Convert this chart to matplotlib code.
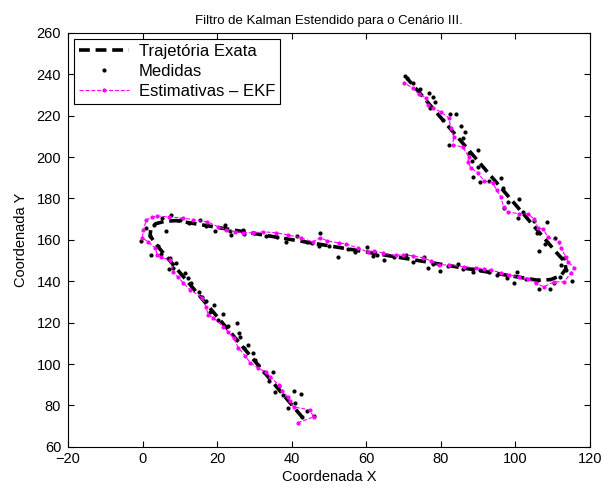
import numpy as np
import matplotlib.pyplot as plt

plt.rcParams['font.family'] = ['Liberation Sans', 'DejaVu Sans']

# trajetoria exata (pontos de quebra)
traj_x = [43.0, 3.5, 2.0, 2.2, 3.5, 6.0, 9.0, 106.0, 109.5, 112.3, 113.6, 113.3, 111.5, 71.0]
traj_y = [74.0, 158.0, 162.0, 165.5, 167.8, 169.0, 169.3, 140.5, 140.8, 142.8, 146.0, 149.5, 153.0, 238.0]

# medidas
med_x = [42.9, 45.9, 44.2, 39.1, 41.0, 42.4, 40.5, 37.8, 35.6, 36.5, 33.8, 35.1, 32.5, 31.0,
         30.2, 29.5, 28.4, 27.2, 26.0, 25.8, 25.4, 23.0, 20.1, 21.5, 18.2, 19.2, 17.0, 15.8,
         15.0, 12.3, 11.5, 13.0, 8.2, 7.2, 9.0, 7.4, 5.0, 2.3, 4.0, -0.4, 2.0, 1.0, 3.0, 5.3,
         6.3, 7.7, 10.0, 12.5, 15.5, 17.0, 19.5, 22.2, 23.8, 23.5, 27.0, 27.3, 30.0, 33.0,
         36.0, 38.5, 41.3, 44.0, 45.5, 47.5, 47.2, 50.0, 52.3, 55.0, 57.0, 60.1, 61.7, 63.0,
         64.9, 67.5, 70.6, 72.5, 75.4, 76.5, 78.0, 79.7, 82.0, 84.6, 86.0, 88.6, 90.5, 93.0,
         95.0, 97.7, 99.6, 100.4, 103.0, 106.3, 106.0, 109.3, 110.5, 112.0, 115.2, 113.5,
         112.3, 113.1, 106.3, 110.6, 108.0, 105.8, 108.5, 105.0, 100.7, 102.0, 97.0, 101.0,
         98.0, 96.7, 96.1, 93.0, 90.5, 88.6, 90.0, 88.5, 90.0, 87.5, 82.2, 85.9, 86.5, 85.4,
         84.0, 82.4, 80.5, 77.0, 78.5, 77.8, 76.8, 74.5, 72.5, 70.3, 71.0]
med_y = [74.5, 75.0, 77.4, 78.8, 81.0, 85.6, 87.1, 85.0, 86.6, 89.5, 91.9, 96.2, 96.0, 99.5,
         102.0, 105.5, 109.3, 108.0, 113.1, 115.0, 120.0, 118.5, 121.4, 124.0, 125.2, 128.6,
         130.5, 132.5, 135.0, 141.6, 144.1, 139.0, 146.5, 146.0, 149.0, 151.3, 153.0, 152.8,
         157.0, 159.5, 162.0, 165.5, 167.0, 170.6, 164.3, 172.1, 169.5, 168.0, 169.7, 166.5,
         164.3, 167.2, 162.4, 164.3, 164.8, 162.9, 163.5, 162.0, 161.5, 159.0, 161.9, 159.0,
         158.5, 163.4, 157.1, 157.0, 151.8, 155.6, 154.0, 156.6, 152.3, 152.5, 150.3, 151.5,
         152.8, 149.5, 151.8, 146.5, 148.5, 145.0, 147.5, 148.4, 146.0, 144.5, 145.5, 144.5,
         143.0, 141.6, 139.2, 144.5, 141.0, 136.3, 140.5, 136.3, 139.0, 142.0, 140.2, 145.5,
         147.9, 151.3, 154.7, 161.0, 158.0, 163.4, 168.7, 169.2, 170.6, 173.5, 175.5, 179.8,
         178.4, 185.1, 190.0, 188.5, 188.0, 190.4, 195.3, 198.0, 203.5, 202.0, 205.9, 209.3,
         212.0, 215.1, 220.9, 220.9, 218.0, 223.8, 226.5, 229.1, 231.0, 233.0, 236.0, 239.2,
         238.0]

# estimativas do EKF
est_x = [41.6, 45.9, 44.8, 40.5, 39.5, 38.9, 37.5, 36.5, 34.3, 33.0, 31.0, 28.9, 27.5, 25.7,
         24.4, 23.0, 21.7, 19.0, 17.6, 17.0, 16.0, 12.8, 10.9, 9.5, 8.2, 7.4, 5.0, 3.9, 3.4,
         1.5, -0.1, 0.2, 1.0, 2.5, 3.9, 7.0, 10.9, 13.6, 17.4, 20.3, 22.5, 24.9, 27.0, 29.5,
         32.4, 35.9, 38.9, 42.4, 45.6, 47.7, 49.6, 52.6, 54.5, 57.7, 60.4, 62.0, 64.4, 67.9,
         70.0, 72.5, 75.2, 77.3, 79.5, 82.2, 86.2, 89.4, 91.5, 93.4, 96.1, 98.3, 101.0, 103.5,
         105.5, 107.7, 110.4, 113.1, 115.0, 115.8, 114.2, 113.6, 112.3, 111.7, 108.8, 107.4,
         106.1, 105.0, 103.4, 101.0, 98.0, 96.9, 96.1, 95.0, 94.0, 91.6, 90.0, 88.1, 87.3,
         87.5, 85.9, 83.2, 83.5, 82.7, 82.2, 80.0, 77.8, 76.5, 76.0, 74.1, 72.5, 70.1]
est_y = [71.6, 74.5, 77.9, 79.3, 82.0, 84.2, 87.0, 90.0, 93.8, 96.2, 98.0, 100.6, 104.0, 107.8,
         112.7, 115.5, 118.0, 122.3, 123.8, 127.5, 132.0, 135.8, 139.2, 142.0, 144.5, 150.3,
         151.5, 152.8, 156.1, 159.0, 161.0, 164.8, 169.7, 170.8, 171.6, 171.0, 170.6, 169.7,
         168.7, 166.3, 165.0, 163.9, 163.5, 163.4, 163.9, 163.4, 162.4, 161.0, 159.0, 161.0,
         159.5, 158.5, 158.1, 156.1, 154.2, 154.7, 153.7, 152.5, 152.8, 152.3, 151.3, 149.9,
         147.9, 147.9, 147.0, 146.5, 146.0, 145.5, 144.1, 143.1, 142.1, 141.0, 139.0, 137.3,
         139.7, 139.7, 144.1, 146.5, 149.4, 151.8, 156.1, 159.0, 161.4, 165.3, 165.8, 170.1,
         172.6, 172.6, 173.5, 175.9, 180.8, 184.0, 187.5, 188.5, 192.4, 194.8, 197.7, 200.1,
         204.9, 205.9, 209.8, 214.1, 218.9, 221.8, 223.8, 225.2, 228.6, 230.5, 233.4, 235.8]

fig = plt.figure(figsize=(6.03, 4.90), dpi=100)
ax = fig.add_axes([0.113, 0.088, 0.865, 0.845])

ax.plot(traj_x, traj_y, color='black', linewidth=2.6, linestyle='--', dashes=(3, 1.6),
        label='Trajetória Exata')
ax.plot(med_x, med_y, linestyle='none', marker='.', color='black', markersize=4,
        label='Medidas')
ax.plot(est_x, est_y, color='magenta', linewidth=0.8, linestyle='--', marker='.',
        markersize=4, label='Estimativas – EKF')

ax.set_xlim(-20, 120)
ax.set_ylim(60, 260)
ax.set_xticks(np.arange(-20, 121, 20))
ax.set_yticks(np.arange(60, 261, 20))
ax.set_xticklabels(['\u221220', '0', '20', '40', '60', '80', '100', '120'])
ax.tick_params(direction='in', top=True, right=True, labelsize=10.5, length=4)
ax.tick_params(axis='y', pad=5)
for s in ax.spines.values():
    s.set_linewidth(0.8)

ax.set_title('Filtro de Kalman Estendido para o Cenário III.', fontsize=9.5)
ax.set_xlabel('Coordenada X', fontsize=10.5, labelpad=3)
ax.set_ylabel('Coordenada Y', fontsize=10.5, labelpad=6)

leg = ax.legend(loc='upper left', fontsize=12, handlelength=3.0, borderaxespad=0.35,
                labelspacing=0.3, fancybox=False, framealpha=1, borderpad=0.3,
                handletextpad=0.6)
leg.get_frame().set_edgecolor('black')
leg.get_frame().set_linewidth(0.8)

fig.savefig('out.png', dpi=100)
